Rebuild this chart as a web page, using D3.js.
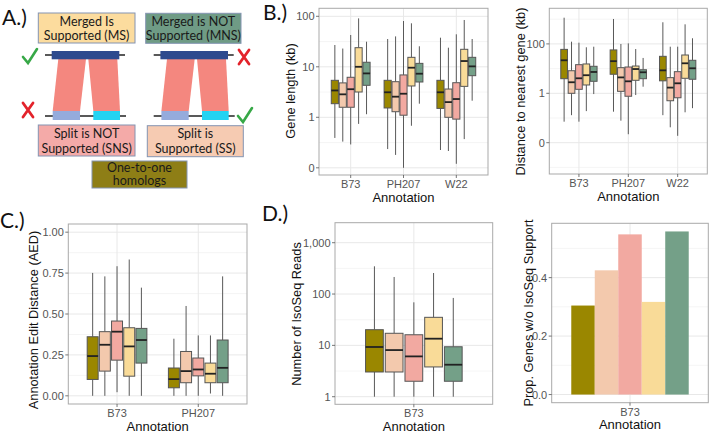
<!DOCTYPE html>
<html><head><meta charset="utf-8">
<script src="https://cdn.jsdelivr.net/npm/d3@7"></script>
<style>body{margin:0;background:#fff}svg{display:block}
.ax{font-family:"Liberation Sans",Arial,Helvetica,sans-serif}
.pa{font-family:Lato,"Open Sans",sans-serif}
</style>
</head><body>
<svg id="fig" width="709" height="433"></svg>
<script>
// ---------------- DATA ----------------
const groupNames = ["One-to-one", "SS", "SNS", "MS", "MNS"];
const groupColors = ["#9a8700", "#f3c9ad", "#f2a9a1", "#f9db98", "#74a088"];
const genomes = ["B73", "PH207", "W22"];
const genomesC = ["B73", "PH207"];
const genomesD = ["B73"];

// [genome, group, lower whisker, q1, median, q3, upper whisker]
const geneLength = [
  ["B73","One-to-one",0.39,1.86,3.4,5.4,27], ["B73","SS",0.33,1.58,2.85,4.8,23],
  ["B73","SNS",0.29,1.58,3.6,6.2,42.6], ["B73","MS",0.74,3.17,10,23.9,91],
  ["B73","MNS",1.15,4.3,7.4,12.3,31.4],
  ["PH207","One-to-one",0.235,1.53,3.13,5.4,35.5], ["PH207","SS",0.18,1.29,2.56,5.07,40],
  ["PH207","SNS",0.1,1.1,2.93,6.9,80.7], ["PH207","MS",0.68,4.17,9.6,15.4,72.6],
  ["PH207","MNS",1.86,5.0,7.3,11.7,25.5],
  ["W22","One-to-one",0.225,1.5,3.13,5.4,37.7], ["W22","SS",0.215,1.0,2.0,3.63,23.9],
  ["W22","SNS",0.12,0.92,2.3,4.84,44], ["W22","MS",0.37,4.1,13,22.2,84.5],
  ["W22","MNS",2.13,6.67,10.2,15.4,35.5]
];
const nearestGene = [
  ["B73","One-to-one",0.071,3.9,21.7,60,1150], ["B73","SS",0.13,1.0,2.8,8.2,123],
  ["B73","SNS",0.071,1.45,4.05,14.4,112], ["B73","MS",0.19,2.17,5.4,15.4,73],
  ["B73","MNS",0.93,3.06,7.3,12.4,77],
  ["PH207","One-to-one",0.18,5.9,20,57,1020], ["PH207","SS",0.078,1.2,4.4,10.9,99],
  ["PH207","SNS",0.022,0.76,3.06,11.6,105], ["PH207","MS",0.85,3.36,9.6,12.7,62],
  ["PH207","MNS",1.85,3.9,7.1,9,27],
  ["W22","One-to-one",0.13,3.2,8.5,31.4,750], ["W22","SS",0.042,0.5,1.7,4.3,77],
  ["W22","SNS",0.019,0.66,2.54,7.5,77], ["W22","MS",0.17,4.05,16.4,35.5,620],
  ["W22","MNS",0.25,3.7,10.3,21.7,169]
];
const aed = [
  ["B73","One-to-one",0,0.1,0.243,0.361,0.751], ["B73","SS",0,0.151,0.312,0.392,0.73],
  ["B73","SNS",0.022,0.218,0.392,0.457,0.792], ["B73","MS",0,0.12,0.302,0.416,0.833],
  ["B73","MNS",0,0.2,0.341,0.412,0.661],
  ["PH207","One-to-one",0,0.049,0.102,0.17,0.349], ["PH207","SS",0,0.08,0.151,0.271,0.549],
  ["PH207","SNS",0,0.122,0.161,0.231,0.369], ["PH207","MS",0.014,0.08,0.135,0.2,0.369],
  ["PH207","MNS",0,0.08,0.171,0.341,0.73]
];
const isoReads = [
  ["B73","One-to-one",1,3.03,9.3,20.2,347], ["B73","SS",1,3.03,8.1,17.2,215],
  ["B73","SNS",1,2.0,6.1,16.1,69], ["B73","MS",1,3.8,13.5,35.2,257],
  ["B73","MNS",1,2.0,4.2,9.4,84]
];
const propNoIso = [0.3045, 0.425, 0.548, 0.317, 0.558];

const geneLengthTicks = [0.1, 1, 10, 100], geneLengthLabels = ["0", "1", "10", "100"];
const geneLengthMinor = [0.316, 3.16, 31.6];
const nearestTicks = [0.01, 1, 100], nearestLabels = ["0", "1", "100"];
const nearestMinor = [0.001, 0.1, 10, 1000];
const aedTicks = [0, 0.25, 0.5, 0.75, 1], aedLabels = ["0.00", "0.25", "0.50", "0.75", "1.00"];
const aedMinor = [0.125, 0.375, 0.625, 0.875];
const isoTicks = [1, 10, 100, 1000], isoLabels = ["1", "10", "100", "1,000"];
const isoMinor = [3.16, 31.6, 316];
const propTicks = [0, 0.2, 0.4], propLabels = ["0.0", "0.2", "0.4"];
const propMinor = [0.1, 0.3, 0.5];

// ---------------- DRAWING ----------------
const svg = d3.select("#fig");
const color = d3.scaleOrdinal().domain(groupNames).range(groupColors);

function panelFrame(g, L, cats, x, y, ticks, minor) {
  const gridG = g.append("g");
  minor.forEach(v => gridG.append("line").attr("x1", L.x0).attr("x2", L.x1)
    .attr("y1", y(v)).attr("y2", y(v)).attr("stroke", "#f3f3f3").attr("stroke-width", 0.8));
  ticks.forEach(v => gridG.append("line").attr("x1", L.x0).attr("x2", L.x1)
    .attr("y1", y(v)).attr("y2", y(v)).attr("stroke", "#e8e8e8").attr("stroke-width", 1));
  cats.forEach((c, i) => gridG.append("line").attr("x1", x(i + 1)).attr("x2", x(i + 1))
    .attr("y1", L.y0).attr("y2", L.y1).attr("stroke", "#e8e8e8").attr("stroke-width", 1));
}
function panelAxes(g, L, cats, x, y, ticks, labels, yTitle, tx, ty) {
  g.append("rect").attr("x", L.x0).attr("y", L.y0).attr("width", L.x1 - L.x0)
    .attr("height", L.y1 - L.y0).attr("fill", "none").attr("stroke", "#a9a9a9").attr("stroke-width", 1);
  const t = g.append("g").attr("class", "ax");
  ticks.forEach((v, i) => {
    t.append("line").attr("x1", L.x0 - 3).attr("x2", L.x0).attr("y1", y(v)).attr("y2", y(v))
      .attr("stroke", "#555").attr("stroke-width", 0.8);
    t.append("text").attr("x", L.x0 - 4.5).attr("y", y(v)).attr("dy", "0.36em")
      .attr("text-anchor", "end").attr("font-size", 11)
      .attr("fill", "#555").text(labels[i]);
  });
  cats.forEach((c, i) => {
    t.append("line").attr("x1", x(i + 1)).attr("x2", x(i + 1)).attr("y1", L.y1).attr("y2", L.y1 + 3)
      .attr("stroke", "#555").attr("stroke-width", 0.8);
    t.append("text").attr("x", x(i + 1)).attr("y", L.y1 + 13).attr("text-anchor", "middle")
      .attr("font-size", 11).attr("fill", "#555").text(c);
  });
  t.append("text").attr("x", (L.x0 + L.x1) / 2).attr("y", L.y1 + 26.5).attr("text-anchor", "middle")
    .attr("font-size", 13).attr("fill", "#111").text("Annotation");
  t.append("text").attr("transform", `translate(${tx},${ty}) rotate(-90)`).attr("dy", "0.36em")
    .attr("text-anchor", "middle").attr("font-size", 12.8)
    .attr("fill", "#111").text(yTitle);
}

function boxPanel(L, cats, data, y, ticks, labels, minor, yTitle, tx, ty) {
  const g = svg.append("g");
  const x = d3.scaleLinear().domain([0.4, cats.length + 0.6]).range([L.x0, L.x1]);
  const unit = x(2) - x(1);
  const sub = d3.scaleBand().domain(groupNames).range([-0.375, 0.375]);
  panelFrame(g, L, cats, x, y, ticks, minor);
  const bw = sub.bandwidth() * 0.9 * unit;
  data.forEach(d => {
    const [cat, grp, lo, q1, med, q3, hi] = d;
    const cx = x(cats.indexOf(cat) + 1) + (sub(grp) + sub.bandwidth() / 2) * unit;
    const bg = g.append("g");
    bg.append("line").attr("x1", cx).attr("x2", cx).attr("y1", y(hi)).attr("y2", y(q3))
      .attr("stroke", "#595959").attr("stroke-width", 1);
    bg.append("line").attr("x1", cx).attr("x2", cx).attr("y1", y(q1)).attr("y2", y(lo))
      .attr("stroke", "#595959").attr("stroke-width", 1);
    bg.append("rect").attr("x", cx - bw / 2).attr("width", bw).attr("y", y(q3))
      .attr("height", y(q1) - y(q3)).attr("fill", color(grp)).attr("stroke", "#555")
      .attr("stroke-width", 1);
    bg.append("line").attr("x1", cx - bw / 2).attr("x2", cx + bw / 2).attr("y1", y(med)).attr("y2", y(med))
      .attr("stroke", "#222").attr("stroke-width", 1.8);
  });
  panelAxes(g, L, cats, x, y, ticks, labels, yTitle, tx, ty);
}

// Panel B left
const LB1 = {x0: 319, x1: 488, y0: 8.3, y1: 175};
boxPanel(LB1, genomes, geneLength,
  d3.scaleLog().domain([Math.pow(10, -1.1426), Math.pow(10, 2.1584)]).range([LB1.y1, LB1.y0]),
  geneLengthTicks, geneLengthLabels, geneLengthMinor, "Gene length (kb)", 290, 91);
// Panel B right
const LB2 = {x0: 549.3, x1: 707.3, y0: 8.3, y1: 174};
boxPanel(LB2, genomes, nearestGene,
  d3.scaleLog().domain([Math.pow(10, -3.267), Math.pow(10, 3.441)]).range([LB2.y1, LB2.y0]),
  nearestTicks, nearestLabels, nearestMinor, "Distance to nearest gene (kb)", 520, 91.5);
// Panel C
const LC = {x0: 68.3, x1: 247, y0: 224, y1: 404};
boxPanel(LC, genomesC, aed, d3.scaleLinear().domain([-0.05, 1.05]).range([LC.y1, LC.y0]),
  aedTicks, aedLabels, aedMinor, "Annotation Edit Distance (AED)", 33.5, 320);
// Panel D left
const LD1 = {x0: 335, x1: 492.7, y0: 222.7, y1: 404.3};
boxPanel(LD1, genomesD, isoReads,
  d3.scaleLog().domain([Math.pow(10, -0.148), Math.pow(10, 3.39)]).range([LD1.y1, LD1.y0]),
  isoTicks, isoLabels, isoMinor, "Number of IsoSeq Reads", 296, 314);
// Panel D right (bars)
(function () {
  const L = {x0: 551.7, x1: 708.3, y0: 223.3, y1: 402.7};
  const g = svg.append("g");
  const x = d3.scaleLinear().domain([0.4, 1.6]).range([L.x0, L.x1]);
  const y = d3.scaleLinear().domain([-0.0279, 0.5859]).range([L.y1, L.y0]);
  const unit = x(2) - x(1);
  const sub = d3.scaleBand().domain(groupNames).range([-0.45, 0.45]);
  panelFrame(g, L, genomesD, x, y, propTicks, propMinor);
  groupNames.forEach((grp, i) => {
    g.append("rect").attr("x", x(1) + sub(grp) * unit).attr("width", sub.bandwidth() * unit)
      .attr("y", y(propNoIso[i])).attr("height", y(0) - y(propNoIso[i])).attr("fill", color(grp));
  });
  panelAxes(g, L, genomesD, x, y, propTicks, propLabels, "Prop. Genes w/o IsoSeq Support", 528, 313);
})();

// ---------------- Panel A diagram ----------------
function labelBox(x, y, w, h, fill, lines, ly) {
  svg.append("rect").attr("x", x).attr("y", y).attr("width", w).attr("height", h)
    .attr("fill", fill).attr("stroke", "#8494b2").attr("stroke-width", 1);
  lines.forEach((t, i) => svg.append("text").attr("class", "pa").attr("x", x + w / 2).attr("y", ly[i]).attr("dy", "0.35em")
    .attr("text-anchor", "middle").attr("font-size", 12.5).attr("fill", "#1a1a1a").text(t));
}
labelBox(38.3, 13, 96.7, 30, "#fcdc9e", ["Merged Is", "Supported (MS)"], [21.5, 36]);
labelBox(145.7, 13.3, 95.3, 30, "#6f9b85", ["Merged is NOT", "Supported (MNS)"], [21.5, 36]);
labelBox(38.3, 125, 96.7, 31, "#f4aaa8", ["Split is NOT", "Supported (SNS)"], [133.5, 148.5]);
labelBox(147.3, 125.7, 96, 31, "#f6cbb2", ["Split is", "Supported (SS)"], [133.5, 148.5]);
labelBox(92, 161, 95, 27, "#8e7e16", ["One-to-one", "homologs"], [167.5, 181]);

function geneDiagram(dx) {
  const g = svg.append("g").attr("transform", `translate(${dx},0)`);
  g.append("line").attr("x1", 45).attr("x2", 125).attr("y1", 55).attr("y2", 55).attr("stroke", "#222").attr("stroke-width", 1.4);
  g.append("line").attr("x1", 45).attr("x2", 126).attr("y1", 116).attr("y2", 116).attr("stroke", "#222").attr("stroke-width", 1.4);
  g.append("path").attr("d", "M58.3,59 L86,59 L80,111 L52.7,111 Z").attr("fill", "#f4877f");
  g.append("path").attr("d", "M88.3,59 L117.3,59 L120,111 L93.3,111 Z").attr("fill", "#f4877f");
  g.append("rect").attr("x", 51.7).attr("y", 51).attr("width", 67.6).attr("height", 8.3).attr("fill", "#2d4a8e");
  g.append("rect").attr("x", 52.7).attr("y", 111).attr("width", 27.3).attr("height", 9).attr("fill", "#95abdc");
  g.append("rect").attr("x", 93.3).attr("y", 111).attr("width", 26.7).attr("height", 9).attr("fill", "#23d3f2");
}
geneDiagram(0);
geneDiagram(108.7);

function check(cx, cy) {
  svg.append("path").attr("d", `M${cx - 7},${cy} L${cx - 2},${cy + 6} L${cx + 7},${cy - 8}`)
    .attr("fill", "none").attr("stroke", "#37a847").attr("stroke-width", 2.6).attr("stroke-linecap", "round");
}
function cross(cx, cy) {
  svg.append("path").attr("d", `M${cx - 5},${cy - 7} L${cx + 5},${cy + 7} M${cx + 5},${cy - 7} L${cx - 5},${cy + 7}`)
    .attr("fill", "none").attr("stroke", "#e3232b").attr("stroke-width", 2.8).attr("stroke-linecap", "round");
}
check(30, 57); cross(28, 110); cross(244, 57); check(245, 116);

// Panel labels
[["A.)", 2, 25], ["B.)", 263, 20], ["C.)", 0, 228], ["D.)", 262, 221]].forEach(([t, x, y]) =>
  svg.append("text").attr("class", "pa").attr("x", x).attr("y", y).attr("font-size", 21).attr("fill", "#111").text(t));
</script>
</body></html>
